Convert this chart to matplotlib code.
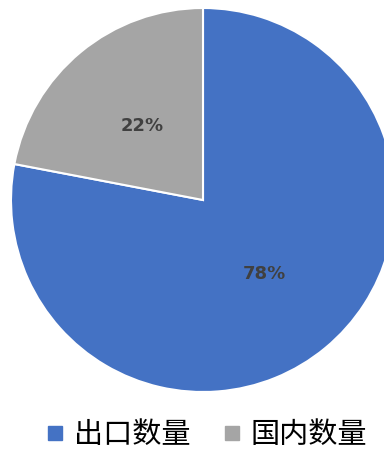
import matplotlib
matplotlib.use("Agg")
import matplotlib.pyplot as plt
from matplotlib.lines import Line2D

labels = ["出口数量", "国内数量"]
values = [78, 22]
colors = ["#4472C4", "#A5A5A5"]

plt.rcParams["font.family"] = ["Noto Sans CJK SC", "DejaVu Sans"]

fig = plt.figure(figsize=(3.84, 4.5), dpi=100)
ax = fig.add_axes([0, 0, 1, 1])

wedges, texts, autotexts = ax.pie(
    values, colors=colors, startangle=90, counterclock=False,
    radius=192, center=(203, 250), autopct="%d%%", pctdistance=0.5,
    wedgeprops=dict(edgecolor="white", linewidth=1.5),
    textprops=dict(color="#404040", fontsize=13, fontweight="bold",
                   family=["DejaVu Sans"]))
for w in wedges:
    w.set_clip_on(True)

# pie resets limits, so set pixel-like limits afterwards
ax.set_xlim(0, 384)
ax.set_ylim(0, 450)
ax.set_aspect("equal")
ax.axis("off")

handles = [Line2D([0], [0], marker="s", ls="", color=c, markersize=9.5) for c in colors]
fig.legend(handles, labels, loc="center", bbox_to_anchor=(0.535, 0.033), ncol=2,
           frameon=False, fontsize=21, handletextpad=0.25, columnspacing=1.0,
           handlelength=0.8)

fig.savefig("out.png", dpi=100)
